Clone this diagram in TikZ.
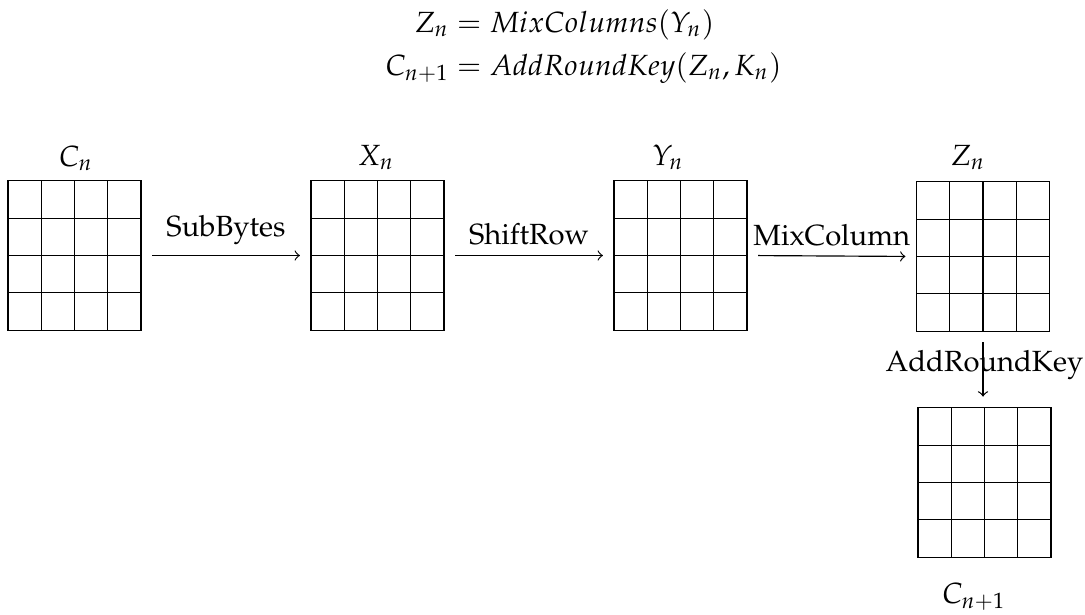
\documentclass[tikz,border=0pt]{standalone}
\usepackage[T1]{fontenc}
\usepackage{mathpazo}
\usetikzlibrary{calc}
\begin{document}
\begin{tikzpicture}[x=0.3425pt,y=-0.3425pt,
  gridbox/.style={draw, rectangle, minimum width=1.6cm, minimum height=1.8cm, inner sep=0pt, outer sep=0pt},
  flow/.style={->, shorten <=3.8pt, shorten >=3.8pt},
  lbl/.style={anchor=base, inner sep=0pt}]
\useasboundingbox (0,0) rectangle (1085,614);

% equations
\node[lbl] (eq1) at (564.5,32) {$Z_n = MixColumns(Y_n)$};
\node[lbl] (eq2) at (583.5,75) {$C_{n+1} = AddRoundKey(Z_n, K_n)$};

% state grids
\node[gridbox] (g1) at (74.5,255.5) {};
\node[gridbox] (g2) at (377.5,255.5) {};
\node[gridbox] (g3) at (680.5,255.5) {};
\node[gridbox] (g4) at (983,256.5) {};
\node[gridbox] (g5) at (984.5,482.5) {};
\foreach \g in {g1,g2,g3,g4,g5} {
  \foreach \i in {1,2,3} {
    \draw ($(\g.north west)!\i/4!(\g.north east)$) -- ($(\g.south west)!\i/4!(\g.south east)$);
    \draw ($(\g.north west)!\i/4!(\g.south west)$) -- ($(\g.north east)!\i/4!(\g.south east)$);
  }
}

% grid labels
\node[lbl] (lc) at (76,166) {$C_n$};
\node[lbl] (lx) at (376,165) {$X_n$};
\node[lbl] (ly) at (668,165) {$Y_n$};
\node[lbl] (lz) at (968,165) {$Z_n$};
\node[lbl] (lc1) at (974,603) {$C_{n+1}$};

% transformations
\draw[flow] (g1.east) -- node[above] {SubBytes} (g2.west);
\draw[flow] (g2.east) -- node[above] {ShiftRow} (g3.west);
\draw[flow] (g3.east) -- node[above] {MixColumn} (g4.west);
\draw[flow] (g4.south) -- node[midway, anchor=base, yshift=-0.7pt, xshift=0.5pt] {AddRoundKey} (g4.south |- g5.north);
\end{tikzpicture}
\end{document}
